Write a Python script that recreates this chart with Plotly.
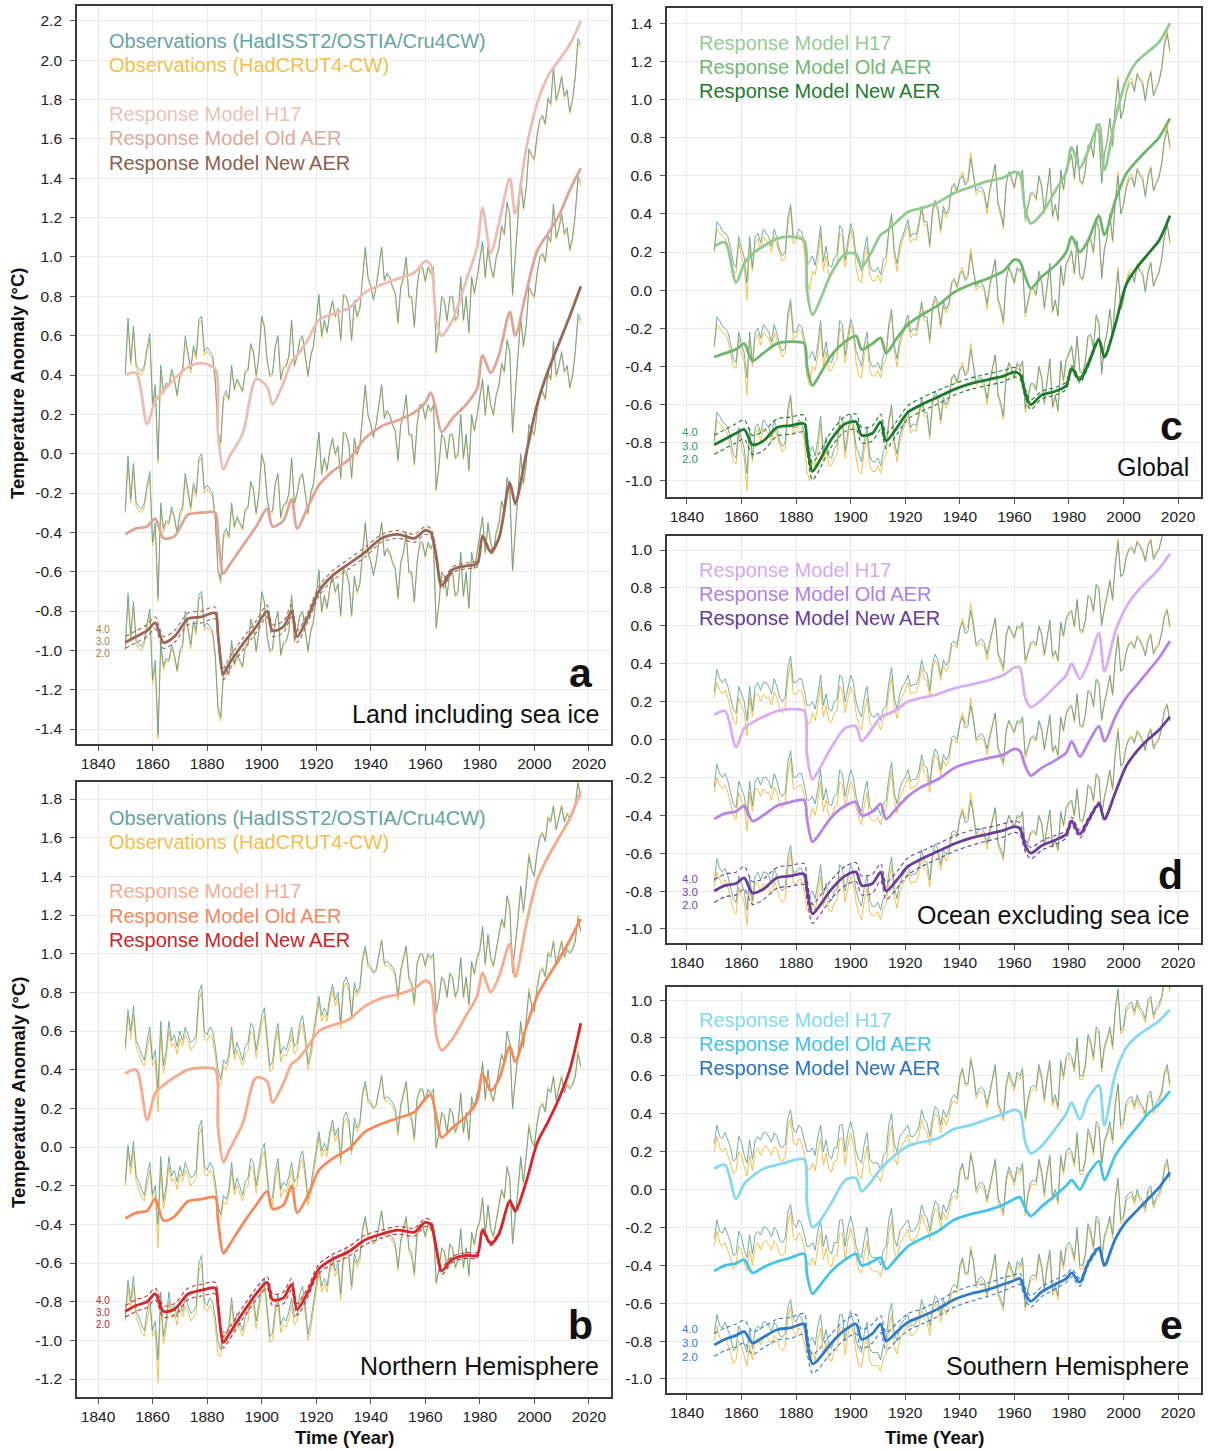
import plotly.graph_objects as go

W, H = 1210, 1451

YEARS = list(range(1850, 2018))
KEY_YEARS = [1850, 1854, 1858, 1861, 1864, 1868, 1873, 1878, 1883, 1884,
             1886, 1888, 1893, 1898, 1902, 1904, 1908, 1911, 1913, 1917,
             1921, 1926, 1932, 1938, 1944, 1950, 1956, 1960, 1962, 1964,
             1966, 1970, 1975, 1979, 1981, 1984, 1987, 1991, 1993, 1997,
             2001, 2005, 2009, 2013, 2017]

# ---------------- Land including sea ice ----------------
land_obs = [
    -0.99, -0.71, -0.93, -0.75, -0.95, -0.97, -0.98, -0.95, -0.86, -0.79,
    -1.15, -1.05, -1.43, -0.95, -1.08, -1.04, -1.05, -0.97, -1.02, -1.10,
    -1.00, -0.97, -0.80, -0.88, -0.97, -0.85, -0.90, -0.72, -0.70, -0.88,
    -0.86, -0.88, -0.90, -1.02, -1.29, -1.34, -1.11, -1.08, -1.12, -0.95,
    -1.07, -1.02, -1.05, -1.08, -0.98, -0.97, -0.84, -0.88, -1.00, -0.90,
    -0.70, -0.75, -0.92, -1.00, -0.99, -0.85, -0.80, -1.02, -0.96, -0.95,
    -0.90, -0.72, -0.95, -0.90, -0.82, -0.80, -0.90, -1.00, -0.90, -0.85,
    -0.72, -0.59, -0.80, -0.72, -0.78, -0.68, -0.62, -0.70, -0.66, -0.82,
    -0.59, -0.60, -0.65, -0.82, -0.62, -0.70, -0.66, -0.52, -0.35, -0.50,
    -0.55, -0.62, -0.55, -0.45, -0.35, -0.52, -0.48, -0.50, -0.55, -0.58,
    -0.73, -0.55, -0.50, -0.40, -0.60, -0.60, -0.75, -0.55, -0.45, -0.45,
    -0.52, -0.45, -0.48, -0.45, -0.88, -0.76, -0.60, -0.62, -0.72, -0.60,
    -0.60, -0.72, -0.70, -0.50, -0.72, -0.60, -0.78, -0.50, -0.58, -0.50,
    -0.42, -0.32, -0.50, -0.35, -0.45, -0.50, -0.40, -0.35, -0.24, -0.28,
    -0.12, -0.18, -0.59, -0.40, -0.20, 0.00, -0.15, -0.05, 0.15, 0.12,
    0.10, 0.22, 0.30, 0.32, 0.28, 0.41, 0.38, 0.57, 0.40, 0.45,
    0.52, 0.42, 0.45, 0.34, 0.40, 0.52, 0.71, 0.68]
land_cw = [
    -1.00, -0.74, -0.95, -0.78, -0.97, -0.99, -1.00, -0.97, -0.88, -0.82,
    -1.17, -1.08, -1.45, -0.98, -1.10, -1.05, -1.06, -0.99, -1.03, -1.11,
    -1.02, -0.99, -0.83, -0.90, -0.99, -0.87, -0.92, -0.74, -0.72, -0.90,
    -0.88, -0.90, -0.92, -1.04, -1.31, -1.36, -1.13, -1.10, -1.13, -0.97,
    -1.08, -1.03, -1.06, -1.09, -0.99, -0.98, -0.85, -0.89, -1.01, -0.91,
    -0.71, -0.76, -0.93, -1.01, -1.00, -0.86, -0.81, -1.03, -0.97, -0.96,
    -0.91, -0.73, -0.96, -0.91, -0.83, -0.81, -0.91, -1.01, -0.91, -0.86,
    -0.73, -0.60, -0.81, -0.73, -0.79, -0.69, -0.63, -0.71, -0.67, -0.83,
    -0.60, -0.61, -0.66, -0.83, -0.63, -0.71, -0.67, -0.53, -0.36, -0.51,
    -0.55, -0.61, -0.55, -0.45, -0.35, -0.52, -0.49, -0.51, -0.56, -0.59,
    -0.74, -0.56, -0.51, -0.41, -0.61, -0.61, -0.76, -0.56, -0.46, -0.46,
    -0.53, -0.46, -0.49, -0.46, -0.89, -0.77, -0.61, -0.63, -0.73, -0.61,
    -0.61, -0.73, -0.71, -0.51, -0.73, -0.61, -0.79, -0.51, -0.59, -0.51,
    -0.43, -0.33, -0.51, -0.36, -0.46, -0.51, -0.41, -0.36, -0.25, -0.29,
    -0.13, -0.19, -0.60, -0.41, -0.21, -0.01, -0.16, -0.06, 0.14, 0.11,
    0.09, 0.21, 0.29, 0.31, 0.27, 0.40, 0.37, 0.55, 0.39, 0.44,
    0.51, 0.41, 0.44, 0.33, 0.39, 0.51, 0.69, 0.66]
land_h17 = [
    -1.00, -0.99, -1.25, -1.13, -1.08, -1.02, -0.96, -0.94, -0.97, -1.30,
    -1.48, -1.42, -1.30, -1.02, -1.06, -1.15, -1.04, -0.93, -0.90, -0.82,
    -0.72, -0.69, -0.66, -0.58, -0.54, -0.51, -0.48, -0.42, -0.44, -0.72,
    -0.80, -0.72, -0.52, -0.35, -0.15, -0.38, -0.23, 0.00, -0.18, 0.15,
    0.38, 0.52, 0.60, 0.68, 0.80]
land_old = [
    -1.11, -1.08, -1.07, -1.03, -1.13, -1.12, -1.01, -1.00, -1.00, -1.12,
    -1.31, -1.27, -1.17, -1.07, -0.98, -1.07, -1.04, -0.93, -1.08, -0.97,
    -0.86, -0.79, -0.73, -0.62, -0.56, -0.53, -0.49, -0.44, -0.39, -0.48,
    -0.59, -0.52, -0.45, -0.37, -0.20, -0.29, -0.20, 0.02, -0.10, 0.12,
    0.33, 0.42, 0.51, 0.64, 0.75]
land_new = [
    -0.96, -0.93, -0.90, -0.86, -0.96, -0.93, -0.84, -0.83, -0.81, -0.92,
    -1.12, -1.07, -0.97, -0.88, -0.80, -0.90, -0.88, -0.80, -0.93, -0.83,
    -0.70, -0.62, -0.56, -0.50, -0.43, -0.41, -0.43, -0.39, -0.40, -0.52,
    -0.67, -0.59, -0.57, -0.56, -0.42, -0.50, -0.43, -0.15, -0.25, 0.00,
    0.25, 0.42, 0.56, 0.70, 0.85]
land_spread = [
    0.03, 0.03, 0.03, 0.03, 0.03, 0.03, 0.03, 0.03, 0.03, 0.03,
    0.03, 0.03, 0.03, 0.03, 0.03, 0.03, 0.03, 0.03, 0.03, 0.025,
    0.025, 0.025, 0.025, 0.025, 0.02, 0.02, 0.02, 0.02, 0.02, 0.02,
    0.02, 0.015, 0.015, 0.015, 0.01, 0.01, 0.01, 0.01, 0.01, 0.005,
    0.0, 0.0, 0.0, 0.0, 0.0]

# ---------------- Northern Hemisphere ----------------
nh_obs = [
    -0.88, -0.69, -0.80, -0.67, -0.85, -0.88, -0.92, -0.95, -0.85, -0.78,
    -0.95, -0.90, -1.10, -0.75, -0.98, -0.90, -0.75, -0.85, -0.82, -0.88,
    -0.80, -0.85, -0.78, -0.82, -0.86, -0.85, -0.82, -0.60, -0.56, -0.80,
    -0.82, -0.78, -0.80, -0.88, -1.00, -1.05, -0.95, -0.97, -0.92, -0.78,
    -0.92, -0.86, -0.90, -0.95, -0.88, -0.86, -0.76, -0.78, -0.90, -0.82,
    -0.72, -0.68, -0.82, -0.98, -0.96, -0.83, -0.76, -0.92, -0.88, -0.90,
    -0.85, -0.78, -0.88, -0.86, -0.76, -0.72, -0.82, -0.97, -0.90, -0.80,
    -0.70, -0.62, -0.72, -0.68, -0.72, -0.62, -0.56, -0.64, -0.60, -0.76,
    -0.55, -0.52, -0.56, -0.72, -0.55, -0.60, -0.57, -0.42, -0.36, -0.45,
    -0.47, -0.50, -0.48, -0.40, -0.33, -0.45, -0.44, -0.45, -0.47, -0.50,
    -0.62, -0.48, -0.42, -0.36, -0.52, -0.55, -0.65, -0.45, -0.40, -0.40,
    -0.46, -0.40, -0.42, -0.40, -0.70, -0.63, -0.52, -0.54, -0.62, -0.50,
    -0.52, -0.62, -0.58, -0.42, -0.62, -0.52, -0.66, -0.44, -0.50, -0.42,
    -0.38, -0.26, -0.45, -0.30, -0.42, -0.46, -0.38, -0.30, -0.22, -0.26,
    -0.10, -0.16, -0.50, -0.35, -0.22, -0.05, -0.18, -0.05, 0.10, 0.03,
    0.00, 0.12, 0.20, 0.22, 0.18, 0.30, 0.28, 0.36, 0.24, 0.30,
    0.36, 0.28, 0.32, 0.30, 0.32, 0.36, 0.48, 0.42]
nh_cw = [
    -0.90, -0.72, -0.84, -0.72, -0.88, -0.92, -0.96, -0.98, -0.90, -0.82,
    -0.98, -0.95, -1.22, -0.80, -1.02, -0.94, -0.80, -0.88, -0.86, -0.92,
    -0.84, -0.88, -0.82, -0.85, -0.90, -0.88, -0.86, -0.64, -0.60, -0.84,
    -0.85, -0.82, -0.84, -0.92, -1.08, -1.08, -0.98, -1.00, -0.95, -0.82,
    -0.95, -0.90, -0.94, -0.98, -0.92, -0.90, -0.80, -0.82, -0.94, -0.86,
    -0.76, -0.72, -0.86, -1.01, -1.00, -0.87, -0.80, -0.96, -0.92, -0.93,
    -0.89, -0.82, -0.92, -0.90, -0.80, -0.76, -0.86, -1.00, -0.94, -0.84,
    -0.73, -0.65, -0.75, -0.71, -0.75, -0.65, -0.59, -0.67, -0.63, -0.79,
    -0.58, -0.55, -0.59, -0.74, -0.58, -0.62, -0.59, -0.44, -0.38, -0.47,
    -0.48, -0.50, -0.49, -0.41, -0.33, -0.46, -0.46, -0.47, -0.49, -0.52,
    -0.64, -0.50, -0.43, -0.37, -0.54, -0.57, -0.67, -0.46, -0.41, -0.41,
    -0.47, -0.41, -0.43, -0.41, -0.71, -0.64, -0.53, -0.55, -0.63, -0.51,
    -0.53, -0.63, -0.59, -0.43, -0.63, -0.53, -0.67, -0.45, -0.51, -0.43,
    -0.39, -0.27, -0.46, -0.31, -0.43, -0.47, -0.39, -0.31, -0.23, -0.27,
    -0.11, -0.17, -0.50, -0.36, -0.23, -0.06, -0.19, -0.04, 0.12, 0.04,
    0.01, 0.13, 0.21, 0.23, 0.19, 0.31, 0.29, 0.37, 0.25, 0.31,
    0.37, 0.29, 0.33, 0.31, 0.33, 0.38, 0.50, 0.41]
nh_h17 = [
    -1.02, -1.00, -1.26, -1.12, -1.08, -1.04, -1.00, -0.99, -1.00, -1.30,
    -1.48, -1.42, -1.28, -1.04, -1.06, -1.17, -1.07, -0.97, -0.95, -0.88,
    -0.80, -0.77, -0.74, -0.67, -0.63, -0.61, -0.58, -0.54, -0.56, -0.82,
    -0.90, -0.84, -0.72, -0.62, -0.50, -0.60, -0.52, -0.35, -0.52, -0.25,
    -0.02, 0.10, 0.20, 0.30, 0.44]
nh_old = [
    -1.07, -1.04, -1.03, -0.97, -1.08, -1.06, -0.98, -0.97, -0.96, -1.08,
    -1.25, -1.21, -1.10, -1.00, -0.93, -1.02, -1.00, -0.90, -1.04, -0.95,
    -0.82, -0.76, -0.71, -0.62, -0.58, -0.55, -0.52, -0.45, -0.43, -0.54,
    -0.65, -0.60, -0.54, -0.46, -0.32, -0.41, -0.35, -0.18, -0.26, -0.08,
    0.08, 0.18, 0.27, 0.37, 0.48]
nh_new = [
    -0.85, -0.82, -0.80, -0.76, -0.85, -0.84, -0.76, -0.74, -0.73, -0.82,
    -1.01, -0.97, -0.86, -0.76, -0.70, -0.79, -0.78, -0.71, -0.84, -0.75,
    -0.63, -0.58, -0.54, -0.48, -0.45, -0.43, -0.44, -0.39, -0.40, -0.52,
    -0.64, -0.58, -0.56, -0.56, -0.43, -0.50, -0.45, -0.28, -0.33, -0.18,
    0.02, 0.13, 0.25, 0.40, 0.64]
nh_spread = land_spread[:]

# ---------------- Global ----------------
glob_obs = [
    -0.79, -0.64, -0.66, -0.69, -0.70, -0.72, -0.78, -0.86, -0.88, -0.72,
    -0.78, -0.83, -0.96, -0.72, -0.88, -0.72, -0.70, -0.75, -0.68, -0.70,
    -0.72, -0.77, -0.68, -0.73, -0.79, -0.82, -0.80, -0.62, -0.55, -0.72,
    -0.72, -0.68, -0.69, -0.75, -0.86, -0.85, -0.82, -0.87, -0.78, -0.66,
    -0.85, -0.77, -0.87, -0.88, -0.83, -0.81, -0.66, -0.68, -0.84, -0.74,
    -0.65, -0.70, -0.82, -0.86, -0.90, -0.79, -0.72, -0.87, -0.90, -0.90,
    -0.88, -0.92, -0.84, -0.82, -0.68, -0.60, -0.79, -0.86, -0.76, -0.72,
    -0.68, -0.63, -0.72, -0.70, -0.71, -0.65, -0.56, -0.64, -0.64, -0.76,
    -0.58, -0.53, -0.57, -0.68, -0.56, -0.60, -0.57, -0.46, -0.44, -0.48,
    -0.42, -0.40, -0.45, -0.43, -0.31, -0.40, -0.48, -0.46, -0.46, -0.49,
    -0.57, -0.47, -0.40, -0.34, -0.54, -0.59, -0.66, -0.44, -0.38, -0.41,
    -0.46, -0.38, -0.40, -0.37, -0.62, -0.56, -0.49, -0.49, -0.52, -0.40,
    -0.45, -0.59, -0.48, -0.36, -0.61, -0.55, -0.63, -0.37, -0.47, -0.36,
    -0.33, -0.29, -0.41, -0.24, -0.42, -0.44, -0.37, -0.24, -0.23, -0.30,
    -0.13, -0.17, -0.44, -0.28, -0.22, -0.10, -0.24, -0.04, 0.10, -0.10,
    -0.05, 0.03, 0.08, 0.09, 0.04, 0.13, 0.10, 0.08, -0.01, 0.09,
    0.14, 0.02, 0.06, 0.09, 0.16, 0.28, 0.34, 0.26]
glob_cw = [
    -0.80, -0.68, -0.70, -0.72, -0.73, -0.76, -0.83, -0.90, -0.91, -0.75,
    -0.82, -0.88, -1.05, -0.76, -0.90, -0.75, -0.73, -0.79, -0.72, -0.74,
    -0.75, -0.80, -0.72, -0.76, -0.81, -0.85, -0.83, -0.66, -0.57, -0.76,
    -0.74, -0.71, -0.72, -0.79, -0.95, -1.00, -0.90, -0.92, -0.84, -0.70,
    -0.90, -0.82, -0.92, -0.92, -0.88, -0.86, -0.70, -0.72, -0.88, -0.79,
    -0.68, -0.74, -0.88, -0.95, -0.96, -0.84, -0.77, -0.92, -0.95, -0.95,
    -0.92, -0.96, -0.89, -0.86, -0.70, -0.62, -0.82, -0.90, -0.80, -0.74,
    -0.70, -0.66, -0.75, -0.73, -0.74, -0.67, -0.58, -0.66, -0.66, -0.78,
    -0.60, -0.55, -0.59, -0.70, -0.58, -0.62, -0.59, -0.47, -0.45, -0.49,
    -0.41, -0.38, -0.44, -0.41, -0.28, -0.40, -0.50, -0.48, -0.48, -0.51,
    -0.60, -0.49, -0.41, -0.34, -0.56, -0.61, -0.68, -0.45, -0.38, -0.42,
    -0.47, -0.39, -0.41, -0.38, -0.64, -0.57, -0.50, -0.50, -0.53, -0.41,
    -0.46, -0.60, -0.49, -0.37, -0.62, -0.56, -0.64, -0.38, -0.48, -0.37,
    -0.34, -0.30, -0.42, -0.25, -0.43, -0.45, -0.38, -0.25, -0.24, -0.31,
    -0.14, -0.18, -0.43, -0.29, -0.23, -0.10, -0.25, -0.03, 0.12, -0.10,
    -0.06, 0.05, 0.10, 0.11, 0.05, 0.14, 0.11, 0.10, 0.00, 0.10,
    0.15, 0.02, 0.06, 0.10, 0.17, 0.30, 0.36, 0.24]
glob_h17 = [
    -0.77, -0.75, -0.96, -0.86, -0.81, -0.77, -0.73, -0.72, -0.74, -1.00,
    -1.13, -1.08, -0.91, -0.81, -0.81, -0.88, -0.79, -0.71, -0.69, -0.64,
    -0.59, -0.57, -0.54, -0.49, -0.46, -0.43, -0.41, -0.38, -0.39, -0.58,
    -0.65, -0.60, -0.48, -0.38, -0.25, -0.36, -0.27, -0.13, -0.37, -0.10,
    0.10, 0.20, 0.25, 0.30, 0.40]
glob_old = [
    -0.85, -0.83, -0.81, -0.78, -0.87, -0.83, -0.78, -0.77, -0.78, -0.90,
    -1.00, -0.96, -0.84, -0.77, -0.74, -0.81, -0.78, -0.75, -0.83, -0.75,
    -0.68, -0.63, -0.58, -0.51, -0.47, -0.44, -0.40, -0.34, -0.35, -0.43,
    -0.49, -0.43, -0.37, -0.30, -0.22, -0.30, -0.24, -0.11, -0.21, -0.03,
    0.11, 0.18, 0.24, 0.30, 0.40]
glob_new = [
    -0.81, -0.78, -0.75, -0.73, -0.81, -0.79, -0.72, -0.71, -0.70, -0.80,
    -0.95, -0.91, -0.78, -0.70, -0.69, -0.76, -0.75, -0.69, -0.79, -0.72,
    -0.64, -0.60, -0.56, -0.52, -0.49, -0.47, -0.45, -0.43, -0.44, -0.54,
    -0.60, -0.55, -0.53, -0.50, -0.41, -0.47, -0.39, -0.26, -0.35, -0.18,
    0.03, 0.12, 0.19, 0.26, 0.39]
glob_spread = [
    0.05, 0.05, 0.05, 0.05, 0.05, 0.05, 0.045, 0.045, 0.045, 0.045,
    0.045, 0.045, 0.04, 0.04, 0.04, 0.04, 0.04, 0.04, 0.04, 0.035,
    0.035, 0.035, 0.035, 0.03, 0.03, 0.03, 0.03, 0.025, 0.025, 0.025,
    0.025, 0.02, 0.02, 0.02, 0.015, 0.015, 0.015, 0.01, 0.01, 0.005,
    0.0, 0.0, 0.0, 0.0, 0.0]

# ---------------- Ocean excluding sea ice ----------------
ocean_obs = [
    -0.75, -0.63, -0.68, -0.70, -0.68, -0.72, -0.78, -0.84, -0.86, -0.72,
    -0.76, -0.80, -0.90, -0.72, -0.85, -0.72, -0.70, -0.74, -0.70, -0.70,
    -0.72, -0.76, -0.68, -0.72, -0.78, -0.80, -0.78, -0.62, -0.56, -0.70,
    -0.70, -0.68, -0.68, -0.74, -0.82, -0.82, -0.80, -0.84, -0.76, -0.66,
    -0.82, -0.76, -0.84, -0.85, -0.80, -0.79, -0.66, -0.68, -0.80, -0.72,
    -0.66, -0.70, -0.80, -0.85, -0.88, -0.78, -0.72, -0.85, -0.88, -0.88,
    -0.86, -0.90, -0.84, -0.82, -0.70, -0.62, -0.78, -0.84, -0.76, -0.72,
    -0.70, -0.66, -0.72, -0.71, -0.71, -0.67, -0.58, -0.64, -0.65, -0.74,
    -0.60, -0.55, -0.58, -0.66, -0.58, -0.61, -0.58, -0.49, -0.48, -0.50,
    -0.42, -0.38, -0.44, -0.43, -0.32, -0.40, -0.50, -0.48, -0.47, -0.49,
    -0.55, -0.48, -0.42, -0.36, -0.54, -0.58, -0.62, -0.45, -0.40, -0.43,
    -0.46, -0.40, -0.41, -0.38, -0.58, -0.54, -0.49, -0.48, -0.50, -0.40,
    -0.44, -0.55, -0.46, -0.37, -0.56, -0.53, -0.58, -0.38, -0.45, -0.36,
    -0.33, -0.32, -0.40, -0.26, -0.42, -0.43, -0.37, -0.24, -0.25, -0.32,
    -0.18, -0.20, -0.40, -0.30, -0.24, -0.16, -0.26, -0.08, 0.04, -0.14,
    -0.12, -0.04, 0.00, 0.01, -0.02, 0.04, 0.02, -0.01, -0.06, 0.02,
    0.05, -0.05, -0.02, 0.00, 0.06, 0.15, 0.18, 0.10]
ocean_cw = [
    -0.78, -0.70, -0.74, -0.76, -0.74, -0.78, -0.84, -0.90, -0.92, -0.78,
    -0.82, -0.86, -0.98, -0.78, -0.88, -0.76, -0.76, -0.80, -0.76, -0.78,
    -0.78, -0.82, -0.75, -0.78, -0.84, -0.86, -0.84, -0.68, -0.60, -0.76,
    -0.76, -0.74, -0.74, -0.80, -0.90, -0.92, -0.86, -0.90, -0.82, -0.72,
    -0.88, -0.82, -0.90, -0.91, -0.86, -0.85, -0.72, -0.74, -0.86, -0.78,
    -0.72, -0.76, -0.86, -0.92, -0.95, -0.85, -0.78, -0.91, -0.93, -0.93,
    -0.91, -0.95, -0.89, -0.87, -0.75, -0.67, -0.83, -0.89, -0.81, -0.77,
    -0.74, -0.70, -0.76, -0.75, -0.75, -0.71, -0.62, -0.68, -0.69, -0.78,
    -0.63, -0.58, -0.61, -0.69, -0.61, -0.64, -0.61, -0.51, -0.50, -0.52,
    -0.41, -0.36, -0.42, -0.40, -0.28, -0.38, -0.51, -0.50, -0.49, -0.51,
    -0.58, -0.50, -0.43, -0.36, -0.56, -0.60, -0.64, -0.46, -0.40, -0.44,
    -0.47, -0.41, -0.42, -0.39, -0.60, -0.55, -0.50, -0.49, -0.51, -0.41,
    -0.45, -0.56, -0.47, -0.38, -0.57, -0.54, -0.59, -0.39, -0.46, -0.37,
    -0.34, -0.33, -0.41, -0.27, -0.43, -0.44, -0.38, -0.25, -0.26, -0.33,
    -0.19, -0.21, -0.39, -0.31, -0.25, -0.17, -0.27, -0.06, 0.06, -0.14,
    -0.13, -0.03, 0.01, 0.02, -0.01, 0.05, 0.03, 0.00, -0.05, 0.03,
    0.06, -0.04, -0.01, 0.01, 0.07, 0.16, 0.19, 0.09]
ocean_h17 = [
    -0.87, -0.85, -1.04, -0.94, -0.91, -0.88, -0.85, -0.84, -0.85, -1.08,
    -1.21, -1.17, -1.04, -0.94, -0.93, -1.01, -0.94, -0.88, -0.87, -0.84,
    -0.80, -0.78, -0.76, -0.73, -0.71, -0.69, -0.66, -0.62, -0.62, -0.78,
    -0.83, -0.79, -0.72, -0.66, -0.60, -0.68, -0.60, -0.44, -0.64, -0.43,
    -0.30, -0.22, -0.16, -0.10, -0.02]
ocean_old = [
    -0.92, -0.89, -0.88, -0.85, -0.93, -0.90, -0.85, -0.83, -0.82, -0.92,
    -1.04, -1.01, -0.91, -0.85, -0.83, -0.90, -0.88, -0.84, -0.92, -0.86,
    -0.80, -0.75, -0.71, -0.65, -0.62, -0.60, -0.58, -0.55, -0.56, -0.64,
    -0.69, -0.65, -0.61, -0.57, -0.51, -0.59, -0.52, -0.43, -0.51, -0.38,
    -0.28, -0.21, -0.14, -0.07, 0.02]
ocean_new = [
    -0.80, -0.77, -0.76, -0.73, -0.81, -0.79, -0.73, -0.72, -0.71, -0.79,
    -0.92, -0.89, -0.79, -0.72, -0.70, -0.77, -0.76, -0.70, -0.80, -0.74,
    -0.67, -0.63, -0.59, -0.55, -0.52, -0.50, -0.48, -0.46, -0.47, -0.56,
    -0.60, -0.56, -0.53, -0.50, -0.43, -0.50, -0.43, -0.34, -0.42, -0.28,
    -0.14, -0.06, 0.00, 0.05, 0.12]
ocean_spread = [
    0.06, 0.06, 0.06, 0.06, 0.06, 0.055, 0.055, 0.055, 0.055, 0.055,
    0.05, 0.05, 0.05, 0.05, 0.05, 0.05, 0.05, 0.045, 0.045, 0.045,
    0.045, 0.04, 0.04, 0.04, 0.04, 0.035, 0.035, 0.03, 0.03, 0.03,
    0.03, 0.025, 0.025, 0.02, 0.02, 0.02, 0.015, 0.01, 0.01, 0.005,
    0.0, 0.0, 0.0, 0.0, 0.0]

# ---------------- Southern Hemisphere ----------------
sh_obs = [
    -0.76, -0.66, -0.72, -0.73, -0.70, -0.74, -0.78, -0.85, -0.84, -0.72,
    -0.75, -0.82, -0.86, -0.74, -0.84, -0.74, -0.72, -0.74, -0.70, -0.70,
    -0.72, -0.75, -0.70, -0.72, -0.77, -0.78, -0.76, -0.62, -0.58, -0.68,
    -0.70, -0.66, -0.68, -0.74, -0.80, -0.80, -0.78, -0.82, -0.72, -0.66,
    -0.80, -0.74, -0.82, -0.84, -0.78, -0.78, -0.66, -0.66, -0.80, -0.70,
    -0.64, -0.70, -0.80, -0.84, -0.86, -0.76, -0.70, -0.84, -0.86, -0.86,
    -0.86, -0.90, -0.82, -0.80, -0.66, -0.60, -0.76, -0.80, -0.72, -0.70,
    -0.68, -0.66, -0.72, -0.72, -0.70, -0.67, -0.58, -0.63, -0.65, -0.72,
    -0.62, -0.56, -0.58, -0.66, -0.58, -0.62, -0.58, -0.52, -0.50, -0.52,
    -0.40, -0.36, -0.44, -0.44, -0.32, -0.38, -0.50, -0.47, -0.46, -0.48,
    -0.55, -0.48, -0.40, -0.34, -0.54, -0.58, -0.62, -0.44, -0.38, -0.42,
    -0.46, -0.38, -0.40, -0.36, -0.62, -0.52, -0.46, -0.45, -0.46, -0.34,
    -0.40, -0.52, -0.40, -0.32, -0.54, -0.50, -0.56, -0.32, -0.40, -0.30,
    -0.28, -0.30, -0.36, -0.20, -0.40, -0.40, -0.34, -0.18, -0.22, -0.30,
    -0.14, -0.16, -0.36, -0.24, -0.20, -0.14, -0.24, -0.04, 0.06, -0.16,
    -0.14, -0.04, -0.02, -0.01, -0.06, 0.00, -0.04, -0.06, -0.10, 0.00,
    0.02, -0.08, -0.04, -0.02, 0.02, 0.12, 0.16, 0.06]
sh_cw = [
    -0.80, -0.72, -0.78, -0.80, -0.78, -0.82, -0.86, -0.92, -0.90, -0.80,
    -0.82, -0.88, -0.93, -0.82, -0.90, -0.80, -0.78, -0.82, -0.78, -0.77,
    -0.79, -0.82, -0.77, -0.79, -0.84, -0.85, -0.83, -0.68, -0.62, -0.75,
    -0.77, -0.73, -0.75, -0.81, -0.88, -0.90, -0.86, -0.90, -0.80, -0.73,
    -0.87, -0.81, -0.89, -0.91, -0.85, -0.85, -0.73, -0.73, -0.87, -0.77,
    -0.70, -0.76, -0.86, -0.93, -0.94, -0.84, -0.77, -0.91, -0.93, -0.93,
    -0.93, -0.96, -0.89, -0.87, -0.73, -0.66, -0.83, -0.87, -0.79, -0.76,
    -0.74, -0.71, -0.77, -0.77, -0.75, -0.72, -0.63, -0.68, -0.70, -0.77,
    -0.66, -0.60, -0.62, -0.70, -0.62, -0.66, -0.62, -0.55, -0.53, -0.55,
    -0.42, -0.37, -0.45, -0.45, -0.30, -0.38, -0.52, -0.49, -0.48, -0.50,
    -0.57, -0.50, -0.42, -0.35, -0.56, -0.60, -0.64, -0.46, -0.40, -0.44,
    -0.48, -0.40, -0.42, -0.38, -0.64, -0.54, -0.48, -0.47, -0.48, -0.36,
    -0.42, -0.54, -0.42, -0.34, -0.56, -0.52, -0.58, -0.34, -0.42, -0.32,
    -0.30, -0.32, -0.38, -0.22, -0.42, -0.42, -0.36, -0.20, -0.24, -0.32,
    -0.16, -0.18, -0.38, -0.26, -0.22, -0.16, -0.26, -0.06, 0.04, -0.18,
    -0.16, -0.06, -0.04, -0.03, -0.08, -0.02, -0.06, -0.08, -0.12, -0.02,
    0.00, -0.10, -0.06, -0.04, 0.00, 0.10, 0.14, 0.04]
sh_h17 = [
    -0.89, -0.87, -1.05, -0.97, -0.93, -0.89, -0.87, -0.85, -0.84, -1.08,
    -1.20, -1.18, -1.07, -0.95, -0.94, -1.01, -0.95, -0.89, -0.86, -0.81,
    -0.77, -0.75, -0.73, -0.68, -0.66, -0.63, -0.60, -0.58, -0.59, -0.75,
    -0.81, -0.77, -0.68, -0.60, -0.54, -0.63, -0.52, -0.45, -0.66, -0.39,
    -0.25, -0.19, -0.15, -0.11, -0.05]
sh_old = [
    -0.93, -0.90, -0.89, -0.87, -0.94, -0.91, -0.88, -0.86, -0.84, -0.95,
    -1.05, -1.02, -0.93, -0.87, -0.84, -0.90, -0.88, -0.86, -0.92, -0.86,
    -0.80, -0.76, -0.72, -0.66, -0.63, -0.61, -0.58, -0.55, -0.54, -0.60,
    -0.64, -0.59, -0.53, -0.48, -0.45, -0.50, -0.42, -0.35, -0.45, -0.32,
    -0.24, -0.17, -0.10, -0.05, 0.02]
sh_new = [
    -0.82, -0.79, -0.77, -0.75, -0.81, -0.78, -0.74, -0.73, -0.71, -0.80,
    -0.92, -0.90, -0.81, -0.74, -0.71, -0.79, -0.76, -0.71, -0.80, -0.75,
    -0.70, -0.67, -0.63, -0.58, -0.55, -0.53, -0.50, -0.48, -0.47, -0.55,
    -0.59, -0.54, -0.50, -0.47, -0.44, -0.49, -0.39, -0.31, -0.40, -0.26,
    -0.17, -0.11, -0.05, 0.01, 0.09]
sh_spread = ocean_spread[:]

# vertical display shift of the H17 / Old AER / New AER groups
LEFT_SHIFTS = [1.4, 0.7, 0.0]
RIGHT_SHIFTS = [1.0, 0.5, 0.0]

MODEL_NAMES = ["Response Model H17", "Response Model Old AER", "Response Model New AER"]
OBS_NAMES = ["Observations (HadISST2/OSTIA/Cru4CW)", "Observations (HadCRUT4-CW)"]
ECS_LABELS = ["4.0", "3.0", "2.0"]
X_TICKS = list(range(1840, 2021, 20))

TEAL = "rgba(92,158,150,0.85)"
TEAL_TEXT = "#64a59c"
YELLOW = "#f3c04a"
FONT = "Liberation Sans, Arial, Helvetica, sans-serif"


def px(x):
    return x / W


def py(y):
    return 1 - y / H


panels = [
    dict(key="a", name="Land including sea ice", obs=land_obs, cw=land_cw,
         models=[land_h17, land_old, land_new], spread=land_spread, shifts=LEFT_SHIFTS,
         colors=["#ebbdb3", "#dea596", "#9a6757"], text_colors=["#e9c2b9", "#dcaa9e", "#8c5e4f"],
         ecs_color="#b07a45",
         box=(77, 611, 6, 744), xr=(1832.3, 2028.1), yr=(-1.476, 2.276),
         yticks=[round(-1.4 + 0.2 * i, 1) for i in range(19)], obs_legend=True,
         legend_y=[41, 65, 114, 138, 163], letter_y=673, name_y=714,
         ecs_x=103, ecs_y=[629, 641, 653], ecs_size=10),
    dict(key="b", name="Northern Hemisphere", obs=nh_obs, cw=nh_cw,
         models=[nh_h17, nh_old, nh_new], spread=nh_spread, shifts=LEFT_SHIFTS,
         colors=["#f7aa8c", "#f5895a", "#d7252a"], text_colors=["#f5ad93", "#f38a5e", "#cf1f25"],
         ecs_color="#c0282e",
         box=(77, 611, 782, 1397), xr=(1832.3, 2028.1), yr=(-1.293, 1.888),
         yticks=[round(-1.2 + 0.2 * i, 1) for i in range(16)], obs_legend=True,
         legend_y=[818, 842, 891, 916, 940], letter_y=1325, name_y=1366,
         ecs_x=103, ecs_y=[1300, 1312, 1324], ecs_size=10),
    dict(key="c", name="Global", obs=glob_obs, cw=glob_cw,
         models=[glob_h17, glob_old, glob_new], spread=glob_spread, shifts=RIGHT_SHIFTS,
         colors=["#92ca92", "#6fb46f", "#1e7a2c"], text_colors=["#95cc95", "#72b872", "#1f7a2e"],
         ecs_color="#2e9a5a",
         box=(667, 1201, 8, 497), xr=(1832.7, 2028.4), yr=(-1.084, 1.479),
         yticks=[round(-1.0 + 0.2 * i, 1) for i in range(13)], obs_legend=False,
         legend_y=[43, 67, 91], letter_y=426, name_y=467,
         ecs_x=690, ecs_y=[432, 446, 459], ecs_size=11.5),
    dict(key="d", name="Ocean excluding sea ice", obs=ocean_obs, cw=ocean_cw,
         models=[ocean_h17, ocean_old, ocean_new], spread=ocean_spread, shifts=RIGHT_SHIFTS,
         colors=["#d9acf5", "#b783e6", "#6a3d9c"], text_colors=["#d5a9f3", "#b27fe3", "#653a98"],
         ecs_color="#7a45a8",
         box=(667, 1201, 536, 943), xr=(1832.7, 2028.4), yr=(-1.074, 1.074),
         yticks=[round(-1.0 + 0.2 * i, 1) for i in range(11)], obs_legend=False,
         legend_y=[570, 594, 618], letter_y=875, name_y=915,
         ecs_x=690, ecs_y=[879, 892, 905], ecs_size=11.5),
    dict(key="e", name="Southern Hemisphere", obs=sh_obs, cw=sh_cw,
         models=[sh_h17, sh_old, sh_new], spread=sh_spread, shifts=RIGHT_SHIFTS,
         colors=["#86d9f1", "#45c4e8", "#2f7bc8"], text_colors=["#86d8f0", "#45c2e6", "#2b72c0"],
         ecs_color="#3480c8",
         box=(667, 1201, 987, 1393), xr=(1832.7, 2028.4), yr=(-1.074, 1.069),
         yticks=[round(-1.0 + 0.2 * i, 1) for i in range(11)], obs_legend=False,
         legend_y=[1020, 1044, 1068], letter_y=1325, name_y=1366,
         ecs_x=690, ecs_y=[1329, 1343, 1357], ecs_size=11.5),
]

fig = go.Figure()
annotations = []
layout_axes = {}

for i, p in enumerate(panels):
    n = "" if i == 0 else str(i + 1)
    xa, ya = "x" + n, "y" + n
    x0, x1, y0, y1 = p["box"]
    layout_axes["xaxis" + n] = dict(
        domain=[px(x0), px(x1)], range=list(p["xr"]), anchor=ya,
        tickvals=X_TICKS, ticktext=[str(t) for t in X_TICKS],
        showline=True, mirror=True, linecolor="#3a3a3a", linewidth=1.7,
        ticks="outside", ticklen=5, tickcolor="#555", tickwidth=1,
        showgrid=True, gridcolor="#ebebeb", gridwidth=1, zeroline=False,
        tickfont=dict(family=FONT, size=15.5, color="#222"))
    layout_axes["yaxis" + n] = dict(
        domain=[py(y1), py(y0)], range=list(p["yr"]), anchor=xa,
        tickvals=p["yticks"], ticktext=[f"{v:.1f}" for v in p["yticks"]],
        showline=True, mirror=True, linecolor="#3a3a3a", linewidth=1.7,
        ticks="outside", ticklen=5, tickcolor="#555", tickwidth=1, ticklabelstandoff=5,
        showgrid=True, gridcolor="#ebebeb", gridwidth=1, zeroline=False,
        tickfont=dict(family=FONT, size=15.5, color="#222"))

    # observations, repeated for each model group
    for shift in p["shifts"]:
        fig.add_trace(go.Scatter(x=YEARS, y=[v + shift for v in p["cw"]], mode="lines",
                                 line=dict(color=YELLOW, width=1.0), xaxis=xa, yaxis=ya,
                                 hoverinfo="skip"))
        fig.add_trace(go.Scatter(x=YEARS, y=[v + shift for v in p["obs"]], mode="lines",
                                 line=dict(color=TEAL, width=1.0), xaxis=xa, yaxis=ya,
                                 hoverinfo="skip"))

    # climate sensitivity range around the New AER response
    new = p["models"][2]
    shift_new = p["shifts"][2]
    for sign in (1, -1):
        fig.add_trace(go.Scatter(
            x=KEY_YEARS, y=[v + sign * s + shift_new for v, s in zip(new, p["spread"])],
            mode="lines", line=dict(color=p["colors"][2], width=1.1, dash="4px,3px",
                                    shape="spline", smoothing=0.8),
            xaxis=xa, yaxis=ya, hoverinfo="skip"))

    # response model curves
    for model, shift, col in zip(p["models"], p["shifts"], p["colors"]):
        fig.add_trace(go.Scatter(x=KEY_YEARS, y=[v + shift for v in model], mode="lines",
                                 line=dict(color=col, width=2.8, shape="spline", smoothing=0.8),
                                 xaxis=xa, yaxis=ya, hoverinfo="skip"))

    # in-plot legend text
    lx = x0 + 30
    labels = (OBS_NAMES + MODEL_NAMES) if p["obs_legend"] else MODEL_NAMES
    colors = ([TEAL_TEXT, YELLOW] + p["text_colors"]) if p["obs_legend"] else p["text_colors"]
    for txt, col, yy in zip(labels, colors, p["legend_y"]):
        annotations.append(dict(x=px(lx), y=py(yy), xref="paper", yref="paper",
                                text=txt, showarrow=False, xanchor="left", yanchor="middle",
                                font=dict(family=FONT, size=20, color=col)))

    # panel letter and region name
    annotations.append(dict(x=px(x1 - 16), y=py(p["letter_y"]), xref="paper", yref="paper",
                            text="<b>%s</b>" % p["key"], showarrow=False, xanchor="right",
                            yanchor="middle", font=dict(family=FONT, size=41, color="#111")))
    annotations.append(dict(x=px(x1 - 10), y=py(p["name_y"]), xref="paper", yref="paper",
                            text=p["name"], showarrow=False, xanchor="right", yanchor="middle",
                            font=dict(family=FONT, size=25, color="#111")))

    # ECS labels next to the New AER curve
    for txt, yy in zip(ECS_LABELS, p["ecs_y"]):
        annotations.append(dict(x=px(p["ecs_x"]), y=py(yy), xref="paper", yref="paper",
                                text=txt, showarrow=False, xanchor="center", yanchor="middle",
                                borderpad=0,
                                font=dict(family=FONT, size=p["ecs_size"], color=p["ecs_color"])))

# axis titles
for yc in (383, 1092):
    annotations.append(dict(x=px(18), y=py(yc), xref="paper", yref="paper",
                            text="<b>Temperature Anomaly (°C)</b>", showarrow=False, textangle=-90,
                            xanchor="center", yanchor="middle",
                            font=dict(family=FONT, size=18.5, color="#111")))
for xc in (344, 934):
    annotations.append(dict(x=px(xc), y=py(1437), xref="paper", yref="paper",
                            text="<b>Time (Year)</b>", showarrow=False,
                            xanchor="center", yanchor="middle",
                            font=dict(family=FONT, size=18.5, color="#111")))

fig.update_layout(
    width=W, height=H, margin=dict(l=0, r=0, t=0, b=0),
    paper_bgcolor="white", plot_bgcolor="white", showlegend=False,
    annotations=annotations, **layout_axes)

fig.write_html("out.html")
